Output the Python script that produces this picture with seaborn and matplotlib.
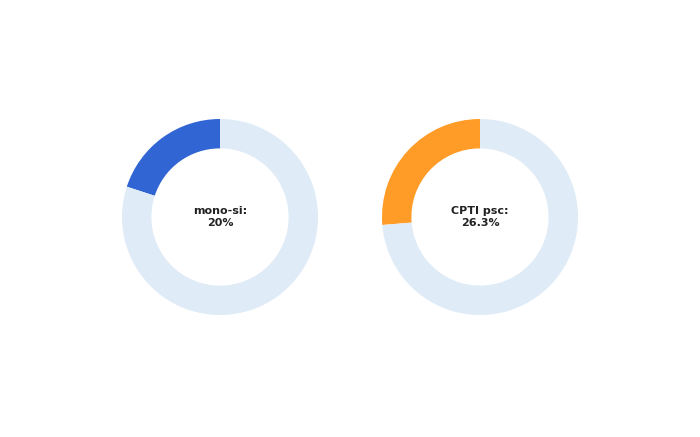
import matplotlib
matplotlib.use("Agg")
import matplotlib.pyplot as plt
import seaborn as sns

labels = ["mono-si", "CPTI psc"]
values = [20.0, 26.3]
value_texts = ["20%", "26.3%"]
colors = ["#3265D4", "#FF9C27"]
track_color = "#DFEBF7"

sns.set_theme(style="white")
plt.rcParams['font.family'] = ['DejaVu Sans']

fig = plt.figure(figsize=(7, 4.37), dpi=100)
fig.patch.set_facecolor("white")

centers = [(220, 217), (480, 217)]
R = 98
W, H = 700, 437
for (cx, cy), lab, val, vt, col in zip(centers, labels, values, value_texts, colors):
    ax = fig.add_axes([(cx - R) / W, (H - cy - R) / H, 2 * R / W, 2 * R / H])
    ax.pie([val, 100 - val], colors=[col, track_color], startangle=90,
           counterclock=True, radius=1.0,
           wedgeprops=dict(width=0.3, edgecolor="none"))
    ax.set_xlim(-1, 1)
    ax.set_ylim(-1, 1)
    ax.set_aspect("equal")
    ax.axis("off")
    ax.text(0, 0, f"{lab}:\n{vt}", ha="center", va="center",
            fontsize=8, fontweight="bold", color="#222222", linespacing=1.25)

fig.savefig("out.png", dpi=100, facecolor="white")
